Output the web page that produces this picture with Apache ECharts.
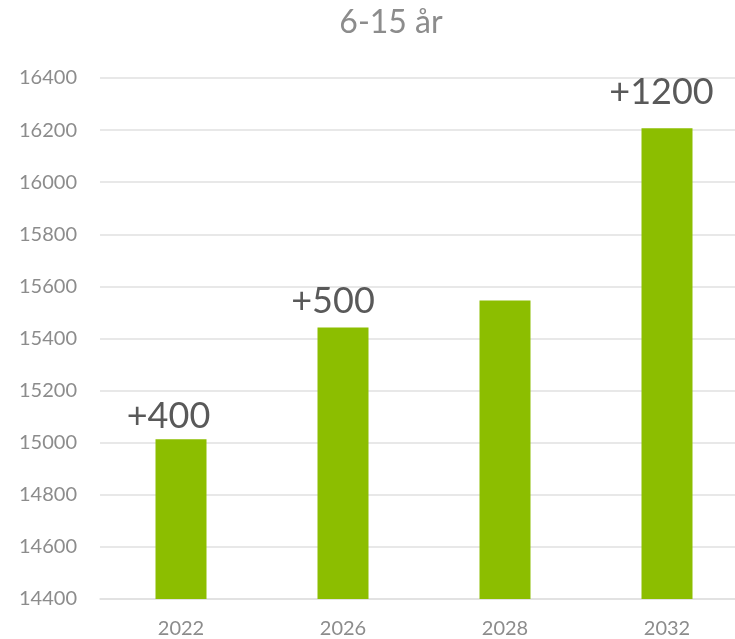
<!DOCTYPE html>
<html><head><meta charset="utf-8">
<script src="https://cdn.jsdelivr.net/npm/echarts@6/dist/echarts.min.js"></script>
<style>html,body{margin:0;padding:0;background:#fff;overflow:hidden}#c{width:760px;height:639px}</style>
</head><body><div id="c"></div>
<script>
const categories = ['2022', '2026', '2028', '2032'];
const values = [15013, 15442, 15546, 16207];
const changeLabels = ['+400', '+500', '', '+1200'];
const yMin = 14400, yMax = 16400, yStep = 200;
const titleText = '6-15 år';
// label placement tweaks (style only): [dx, distance]
const labelPlace = [[-12.5, 5], [-10, 8.5], [0, 10], [-5.5, 18]];

const chart = echarts.init(document.getElementById('c'));
chart.setOption({
  animation: false,
  textStyle: { fontFamily: 'Lato' },
  title: {
    text: titleText, left: 386, top: 2, textAlign: 'center',
    textStyle: { fontFamily: 'Lato', fontSize: 32, fontWeight: 'normal', color: '#8c8c8c' }
  },
  grid: { left: 100, top: 78, width: 648, height: 522, containLabel: false },
  xAxis: {
    type: 'category', data: categories,
    axisLine: { show: true, lineStyle: { color: '#e0e0e0', width: 1.5 } },
    axisTick: { show: false },
    axisLabel: { fontFamily: 'Lato', fontSize: 20, color: '#8c8c8c', margin: 20 }
  },
  yAxis: {
    type: 'value', min: yMin, max: yMax, interval: yStep,
    axisLine: { show: false }, axisTick: { show: false },
    splitLine: { lineStyle: { color: '#e0e0e0', width: 1.5 } },
    axisLabel: { fontFamily: 'Lato', fontSize: 20, color: '#8c8c8c', margin: 23, formatter: v => String(v) }
  },
  series: [{
    type: 'bar', barWidth: 51,
    data: values.map((v, i) => ({
      value: v,
      label: { offset: [labelPlace[i][0], 0], distance: labelPlace[i][1] }
    })),
    itemStyle: { color: '#8cbe00' },
    label: {
      show: true, position: 'top',
      formatter: p => changeLabels[p.dataIndex],
      fontFamily: 'Lato', fontSize: 36, color: '#595959'
    }
  }]
});
</script></body></html>
